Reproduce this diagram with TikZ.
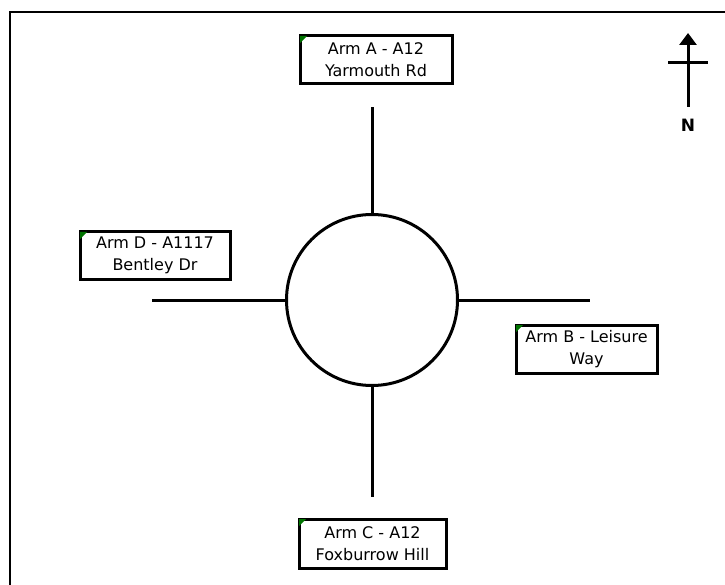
\documentclass[tikz,border=0pt]{standalone}
\usepackage{fontspec}
\setmainfont{DejaVu Sans}
\usetikzlibrary{arrows.meta}
\tikzset{
	armbox/.style={draw, line width=3pt, fill=white, align=center, inner sep=0pt,
		font=\fontsize{16pt}{22pt}\selectfont},
	road/.style={line width=3pt},
}
\newcommand{\armflag}[1]{\fill [green!45!black] (#1.north west) ++(1.5pt,-1.5pt) -- ++(7pt,0) -- ++(-7pt,-7pt) -- cycle;}
\begin{document}
\begin{tikzpicture}[x=1pt, y=-1pt]
		\useasboundingbox (0,0) rectangle (725,585);
		\coordinate (F1) at (10, 600);
		\coordinate (F2) at (10, 12);
		\coordinate (F3) at (740, 12);
		\draw [line width=2.5pt] (F1) -- (F2) -- (F3); %frame
		
		\node [draw, circle, line width=3pt, minimum size=171pt, inner sep=0pt] (rbt) at (372, 300) {};
		
		\coordinate (endA) at (372, 107);
		\coordinate (endB) at (590, 300);
		\coordinate (endC) at (372, 497);
		\coordinate (endD) at (152, 300);
		
		\draw [road] (rbt.north) -- (endA);
		\draw [road] (rbt.east) -- (endB);
		\draw [road] (rbt.south) -- (endC);
		\draw [road] (rbt.west) -- (endD);
		
		\node [armbox, minimum width=152pt, minimum height=48pt] (armA) at (376, 60) {Arm A - A12\\Yarmouth Rd};
		\node [armbox, minimum width=141pt, minimum height=48pt] (armB) at (586.5, 349) {Arm B - Leisure\\Way};
		\node [armbox, minimum width=147pt, minimum height=49pt] (armC) at (372.5, 543.5) {Arm C - A12\\Foxburrow Hill};
		\node [armbox, minimum width=150pt, minimum height=47pt] (armD) at (155, 255.5) {Arm D - A1117\\Bentley Dr};
		\armflag{armA} \armflag{armB} \armflag{armC} \armflag{armD}
		
		\coordinate (N1) at (688, 107);
		\coordinate (N2) at (688, 33);
		\coordinate (X1) at (668, 63);
		\coordinate (X2) at (708, 63);
		\draw [line width=3pt, -{Triangle[length=12pt, width=17pt]}] (N1) -- (N2);
		\draw [line width=3pt] (X1) -- (X2);
		\node [font=\fontsize{17pt}{19pt}\selectfont\bfseries] (north) at (688, 125) {N};
	\end{tikzpicture}
\end{document}
